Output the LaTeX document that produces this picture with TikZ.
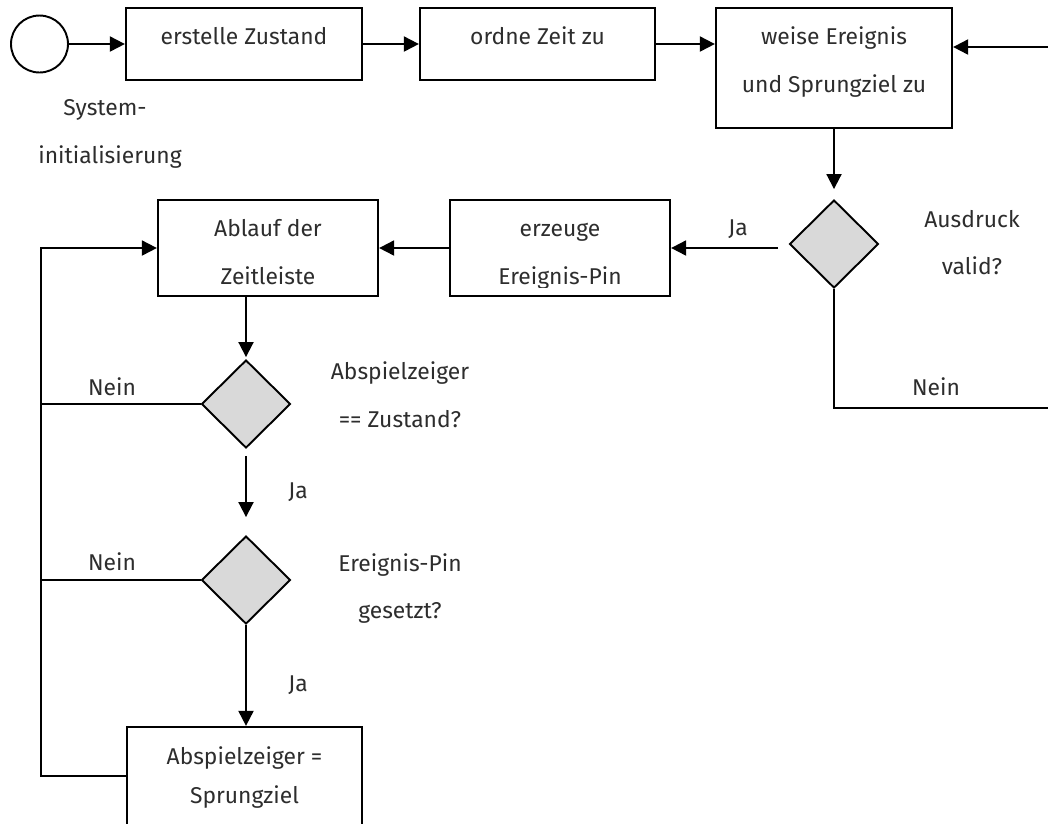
\documentclass[tikz,border=0pt]{standalone}
\usepackage{fontspec}
\setmainfont{Fira Sans}
\usetikzlibrary{arrows.meta,shapes.geometric}
\definecolor{diafill}{RGB}{217,217,217}
\definecolor{ink}{RGB}{45,45,45}
\begin{document}
\begin{tikzpicture}[x=0.02cm,y=-0.02cm,
  stepbox/.style={draw,line width=1.3pt,inner sep=0pt},
  widebox/.style={stepbox,minimum width=4.72cm,minimum height=1.44cm},
  midbox/.style={stepbox,minimum width=4.4cm,minimum height=1.92cm},
  startnode/.style={circle,draw,line width=1.1pt,minimum size=1.14cm,inner sep=0pt},
  decision/.style={diamond,draw,fill=diafill,line width=1.1pt,inner sep=0pt,
    minimum width=1.78cm,minimum height=1.76cm},
  ln/.style={line width=1.1pt},
  arr/.style={ln,-{Triangle[length=0.3cm,width=0.3cm]}},
  txt/.style={font=\fontsize{13pt}{15pt}\selectfont,text=ink,inner sep=0pt,anchor=base}
]
\useasboundingbox (0,0) rectangle (1048,823);
\clip (0,0) rectangle (1048,823);

% --- nodes ---
\node[startnode] (circ) at (39.5,44) {};
\node[widebox] (b1) at (244,44) {};
\node[widebox,minimum width=4.7cm] (b2) at (537.5,44) {};
\node[widebox,minimum height=2.4cm] (b3) at (834,68) {};
\node[decision] (d1) at (834,244) {};
\node[midbox] (ez) at (560,248) {};
\node[midbox] (ab) at (268,248) {};
\node[decision] (d2) at (246,404) {};
\node[decision] (d3) at (246,580) {};
\node[widebox,minimum width=4.7cm,minimum height=2.4cm] (bb) at (244.5,787) {};

% --- texts ---
\node[txt] (tb1) at (244,44) {erstelle Zustand};
\node[txt] (tb2) at (537.5,44) {ordne Zeit zu};
\node[txt] (tb3a) at (834,44) {weise Ereignis};
\node[txt] (tb3b) at (834,92) {und Sprungziel zu};
\node[txt] (sys1) at (105,115) {System-};
\node[txt] (sys2) at (110,163) {initialisierung};
\node[txt] (ab1) at (268,236) {Ablauf der};
\node[txt] (ab2) at (268,284) {Zeitleiste};
\node[txt] (ez1) at (560,236) {erzeuge};
\begin{scope}
  \clip (450,200) rectangle (670,287);
  \node[txt] (ez2) at (560,284) {Ereignis-Pin};
\end{scope}
\node[txt] (jaA) at (738,235) {Ja};
\node[txt] (aus1) at (972,227) {Ausdruck};
\node[txt] (aus2) at (972,274) {valid?};
\node[txt] (neinR) at (936,395) {Nein};
\node[txt] (neinA) at (112,395) {Nein};
\node[txt] (q2a) at (400,379) {Abspielzeiger};
\node[txt] (q2b) at (400,427) {== Zustand?};
\node[txt] (jaB) at (298,498) {Ja};
\node[txt] (neinB) at (112,570) {Nein};
\node[txt] (q3a) at (400,571) {Ereignis-Pin};
\node[txt] (q3b) at (400,618) {gesetzt?};
\node[txt] (jaC) at (298,691) {Ja};
\node[txt] (bb1) at (244.5,764) {Abspielzeiger =};
\node[txt] (bb2) at (244.5,803) {Sprungziel};

% --- connectors ---
\draw[arr] (circ) -- (b1);
\draw[arr] (b1) -- (b2);
\draw[arr] (b2.east) -- (b2.east -| b3.west);
\coordinate (rin) at (1048,47);
\draw[arr] (rin) -- (rin -| b3.east);
\draw[arr,shorten >=0.2cm] (b3.south) -- (d1.north);
\coordinate (jaStart) at (778,248);
\draw[arr] (jaStart) -- (jaStart -| ez.east);
\draw[arr] (ez) -- (ab);
\draw[arr,shorten >=0.04cm] (ab.south -| d2.north) -- (d2.north);
\draw[arr,shorten <=0.14cm,shorten >=0.36cm] (d2.south) -- (d3.north);
\draw[arr] (d3.south) -- (d3.south |- bb.north);

\coordinate (lp) at (41,776);
\draw[arr] (lp -| bb.west) -- (lp) -- (lp |- ab.west) -- (ab.west);
\draw[ln] (d2.west) -- (d2.west -| lp);
\draw[ln] (d3.west) -- (d3.west -| lp);
\coordinate (rout) at (1048,408);
\draw[ln] (d1.south) -- (d1.south |- rout) -- (rout);
\end{tikzpicture}
\end{document}
